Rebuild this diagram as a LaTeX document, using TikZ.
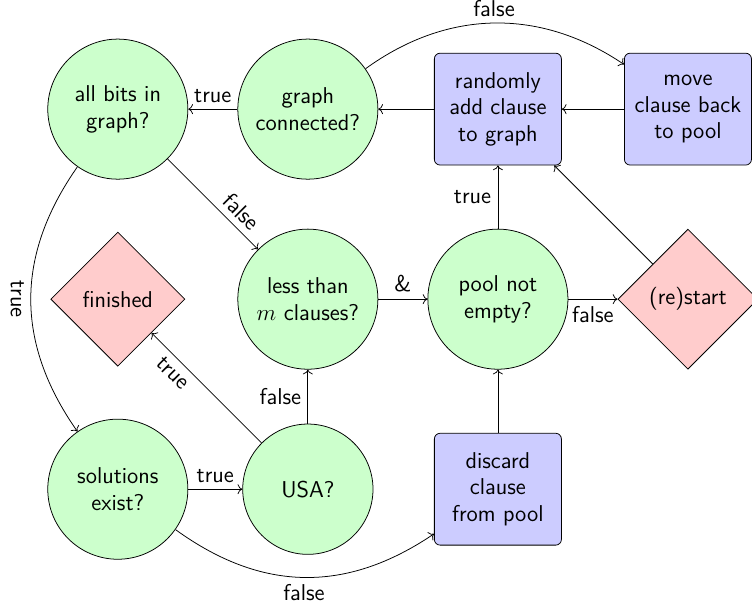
\documentclass[tikz,border=0pt]{standalone}
\usetikzlibrary{arrows.meta}
\usetikzlibrary{shapes.geometric}
\newcommand{\testsize}{2.58cm}

\begin{document}
\begin{tikzpicture}[font=\large\sffamily]
    \useasboundingbox (-2.17,-9.23) rectangle (11.68,2.01);

    \begin{scope}[every node/.style={circle,draw,fill=green!20,minimum size=\testsize,align=center}]
        \node (allbits) at (0,0) {all bits in\\graph?};
        \node (connected) at (3.5,0) {graph\\connected?};
        \node (lessm) at (3.5,-3.5) {less than\\$m$ clauses?};
        \node (poolnonempty) at (7,-3.5) {pool not\\empty?};
        \node (solutions) at (0,-7) {solutions\\exist?};
        \node[minimum size=2.4cm] (usa) at (3.5,-7) {USA?};
    \end{scope}

    \begin{scope}[every node/.style={rectangle,rounded corners=3pt,draw,fill=blue!20,minimum width=2.34cm,minimum height=2.06cm,align=center}]
        \node (addclause) at (7,0) {randomly\\add clause\\to graph};
        \node (moveback) at (10.5,0) {move\\clause back\\to pool};
        \node (discard) at (7,-7) {discard\\clause\\from pool};
    \end{scope}

    \begin{scope}[every node/.style={diamond,draw,fill=red!20,minimum size=2.47cm}]
        \node (finished) at (0,-3.5) {finished};
        \node[minimum size=2.58cm] (restart) at (10.5,-3.5) {(re)start};
    \end{scope}

    \begin{scope}[>=To, every edge/.style={draw=black}]
        \path [->] (connected) edge node[above] {true} (allbits);
        \path [->] (addclause) edge (connected);
        \path [->] (moveback) edge (addclause);
        \path [->] (connected) edge[bend left=35] node[above] {false} (moveback);
        \path [->] (allbits) edge node[pos=0.7,sloped,above] {false} (lessm);
        \path [->] (allbits) edge[bend right=35,looseness=1.05] node[anchor=north,rotate=-90] {true} (solutions);
        \path [->] (solutions) edge node[above] {true} (usa);
        \path [->] (usa) edge node[pos=0.72,sloped,below] {true} (finished);
        \path [->] (usa) edge node[left] {false} (lessm);
        \path [->] (lessm) edge node[above] {\&} (poolnonempty);
        \path [->] (poolnonempty) edge node[left] {true} (addclause);
        \path [->] (poolnonempty) edge node[below] {false} (restart);
        \path [->] (restart) edge (addclause);
        \path [->] (discard) edge (poolnonempty);
        \path [->] (solutions) edge[bend right=35,looseness=1.05] node[below] {false} (discard);
    \end{scope}
\end{tikzpicture}
\end{document}
